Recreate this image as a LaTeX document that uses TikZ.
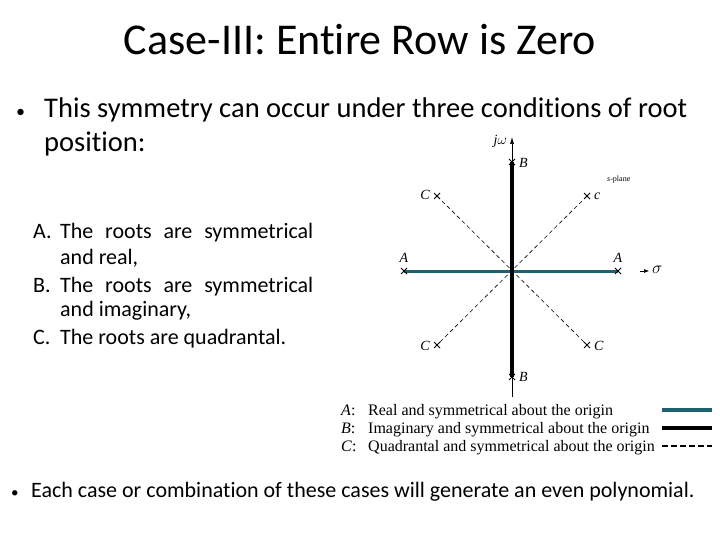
\documentclass[tikz,border=0pt]{standalone}
\usepackage{fontspec}
\setmainfont[Ligatures=NoCommon]{Carlito}
\newfontfamily\legfont{Liberation Serif}
\usetikzlibrary{arrows.meta,calc}
\definecolor{tealline}{RGB}{30,98,110}
\begin{document}
\begin{tikzpicture}[x=1pt,y=-1pt,
  txt/.style={inner sep=0pt,anchor=base west},
  lab/.style={inner sep=0pt,font=\legfont\itshape\fontsize{14}{16}\selectfont},
  leg/.style={inner sep=0pt,anchor=base west,font=\legfont\fontsize{16}{18}\selectfont},
  crossmark/.style={line width=0.9pt}]
\useasboundingbox (0,0) rectangle (720,540);
% title
\node[inner sep=0pt,anchor=base,font=\fontsize{44}{50}\selectfont] (title) at (360,55) {Case-III: Entire Row is Zero};
% bullet 1
\node[txt,font=\fontsize{18}{28}\selectfont] (b1) at (16,118) {\textbullet};
\node[txt,font=\fontsize{28.5}{32}\selectfont] (l1) at (44,118) {This symmetry can occur under three conditions of root};
\node[txt,font=\fontsize{28.5}{32}\selectfont] (l2) at (44,152) {position:};
% list
\begin{scope}[every node/.style={txt,font=\fontsize{22}{24}\selectfont}]
\node (la) at (33,239) {A.};
\node (lat) at (60,239) {\makebox[253pt][s]{The roots are symmetrical}};
\node (la2) at (60,264) {and real,};
\node (lb) at (33,292) {B.};
\node (lbt) at (60,292) {\makebox[253pt][s]{The roots are symmetrical}};
\node (lb2) at (60,316) {and imaginary,};
\node (lc) at (33,344) {C.};
\node (lct) at (60,344) {The roots are quadrantal.};
\end{scope}
% bottom bullet
\node[txt,font=\fontsize{15}{24}\selectfont] (b2) at (11,497) {\textbullet};
\node[txt,font=\fontsize{22}{24}\selectfont] (l3) at (31,497) {Each case or combination of these cases will generate an even polynomial.};
% s-plane diagram
\coordinate (O) at (512,271);
\coordinate (ybot) at (512,397);
\coordinate (ytop) at (512,137);
\coordinate (Bt) at (512,162);
\coordinate (Bb) at (512,377);
\coordinate (Al) at (404,271);
\coordinate (Ar) at (618,271);
\coordinate (C1) at (437,196);
\coordinate (C2) at (587,196);
\coordinate (C3) at (437,345);
\coordinate (C4) at (587,345);
\draw[line width=0.6pt,-{Latex[length=7pt,width=4pt]}] (ybot) -- (ytop);
\draw[line width=0.6pt,dash pattern=on 4pt off 3pt] (C1) -- (C4);
\draw[line width=0.6pt,dash pattern=on 4pt off 3pt] (C2) -- (C3);
\draw[tealline,line width=3pt] (Al) -- (Ar);
\draw[line width=4pt] (Bt) -- (Bb);
\foreach \p in {Al,Ar,Bt,Bb,C1,C2,C3,C4}{
  \draw[crossmark] ($(\p)+(-3,-3)$) -- ($(\p)+(3,3)$);
  \draw[crossmark] ($(\p)+(-3,3)$) -- ($(\p)+(3,-3)$);
}
\coordinate (sg1) at (640,271);
\coordinate (sg2) at (649,271);
\draw[line width=0.6pt,-{Latex[length=5pt,width=4pt]}] (sg1) -- (sg2);
\node[lab,anchor=west,font=\fontsize{17}{18}\selectfont] (sigma) at (652,270) {$\sigma$};
\node[lab,anchor=east] (jw) at (507,141) {j$\omega$};
\node[lab,anchor=west] (lBt) at (519,163) {B};
\node[lab,anchor=west] (lBb) at (519,377) {B};
\node[lab,anchor=south] (lAl) at (404,263) {A};
\node[lab,anchor=south] (lAr) at (618,263) {A};
\node[lab,anchor=east] (lC1) at (430,195) {C};
\node[lab,anchor=west] (lC2) at (594,196) {c};
\node[lab,anchor=east] (lC3) at (430,346) {C};
\node[lab,anchor=west] (lC4) at (594,346) {C};
\node[inner sep=0pt,anchor=west,font=\legfont\fontsize{8}{9}\selectfont] (sp) at (607,180) {\textit{s}-plane};
% legend
\node[leg] (ga) at (341,415) {\textit{A}:};
\node[leg] (gat) at (368,415) {Real and symmetrical about the origin};
\node[leg] (gb) at (341,433) {\textit{B}:};
\node[leg] (gbt) at (368,433) {Imaginary and symmetrical about the origin};
\node[leg] (gc) at (341,451) {\textit{C}:};
\node[leg] (gct) at (368,451) {Quadrantal and symmetrical about the origin};
\coordinate (ka1) at (662,410); \coordinate (ka2) at (712,410);
\coordinate (kb1) at (662,428); \coordinate (kb2) at (712,428);
\coordinate (kc1) at (662,446); \coordinate (kc2) at (712,446);
\draw[tealline,line width=3.5pt] (ka1) -- (ka2);
\draw[line width=3.5pt] (kb1) -- (kb2);
\draw[line width=1.3pt,dash pattern=on 6pt off 3pt] (kc1) -- (kc2);
\end{tikzpicture}
\end{document}
